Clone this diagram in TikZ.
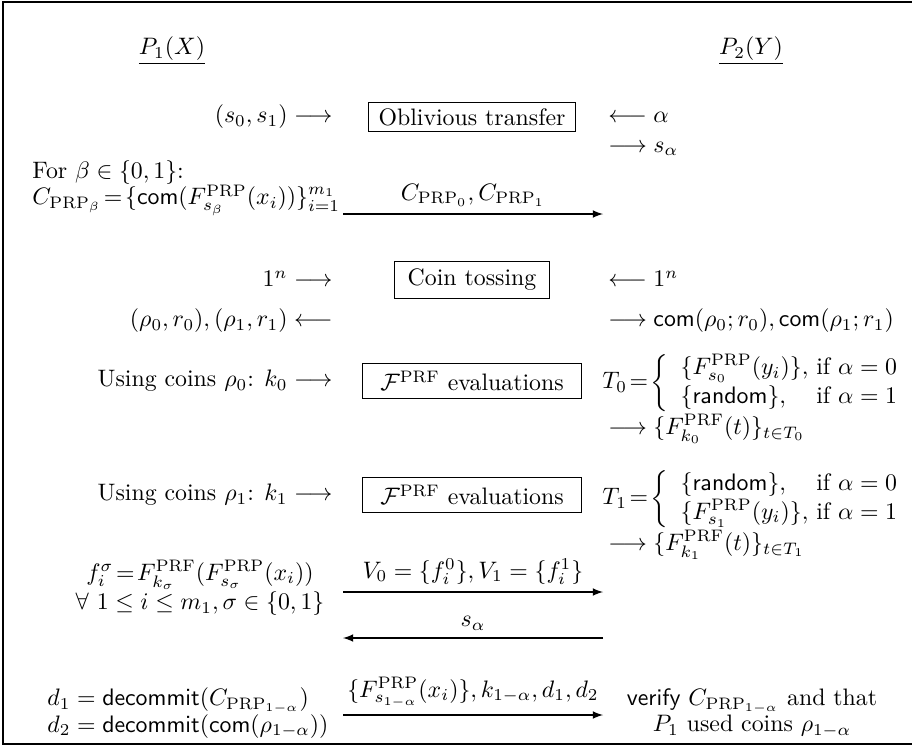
\documentclass[tikz,border=0pt]{standalone}
\usepackage{amsmath}

\begin{document}
\begin{tikzpicture}[
    x=0.42pt, y=-0.42pt,
    txt/.style={inner sep=0pt},
    stack/.style={inner sep=0pt, font=\fontsize{10}{11}\selectfont},
    func/.style={rectangle, draw, line width=0.6pt, inner sep=2pt},
    msg/.style={-latex, line width=0.5pt},
    lbl/.style={above, inner sep=3pt}
]

% Frame
\useasboundingbox (0,0) rectangle (912,747);
\draw[line width=0.8pt] (3,2) rectangle (930,744);

% Parties
\node[txt] (p1) at (172,51) {\underline{$P_1(X)$}};
\node[txt] (p2) at (751,51) {\underline{$P_2(Y)$}};

% Oblivious transfer
\node[func, minimum width=87pt, minimum height=12.2pt] (ot) at (472,117) {Oblivious transfer};
\node[txt, anchor=east] (otin1) at (333,117) {$(s_0,s_1) \longrightarrow$};
\node[txt, anchor=west] (otin2) at (608,117) {$\longleftarrow \alpha$};
\node[txt, anchor=west] (otout2) at (608,149) {$\longrightarrow s_\alpha$};

% Commitments to the permuted inputs
\node[stack, anchor=west, align=left] (cprp) at (32,188) {For $\beta \in \{0,1\}$:\\
    $C_{\mathrm{PRP}_\beta}\!=\!\{\mathsf{com}(F^{\mathrm{PRP}}_{s_\beta}(x_i))\}_{i=1}^{m_1}$};
\coordinate (m1s) at (343,214);
\coordinate (m1e) at (603,214);
\draw[msg] (m1s) -- (m1e) node[lbl, midway] (m1l) {$C_{\mathrm{PRP}_0}, C_{\mathrm{PRP}_1}$};

% Coin tossing
\node[func, minimum width=65pt, minimum height=15.5pt] (ct) at (472,280) {Coin tossing};
\node[txt, anchor=east] (ctin1) at (333,279) {$1^n \longrightarrow$};
\node[txt, anchor=west] (ctin2) at (608,279) {$\longleftarrow 1^n$};
\node[txt, anchor=east] (ctout1) at (333,321) {$(\rho_0,r_0),(\rho_1,r_1) \longleftarrow$};
\node[txt, anchor=west] (ctout2) at (608,321) {$\longrightarrow \mathsf{com}(\rho_0;r_0), \mathsf{com}(\rho_1;r_1)$};

% First PRF evaluations
\node[func, minimum width=92pt, minimum height=14.7pt] (ev0) at (472,381) {$\mathcal{F}^{\mathrm{PRF}}$ evaluations};
\node[txt, anchor=east] (ev0in1) at (333,381) {Using coins $\rho_0$: $k_0 \longrightarrow$};
\node[txt, anchor=west] (ev0in2) at (602,383) {$T_0\!=\!\left\{\begin{array}{l@{\ }l}
    \{F^{\mathrm{PRP}}_{s_0}(y_i)\}, & \text{if } \alpha = 0\\
    \{\mathsf{random}\}, & \text{if } \alpha = 1
  \end{array}\right.$};
\node[txt, anchor=west] (ev0out2) at (608,429) {$\longrightarrow \{F^{\mathrm{PRF}}_{k_0}(t)\}_{t\in T_0}$};

% Second PRF evaluations
\node[func, minimum width=92pt, minimum height=14.7pt] (ev1) at (472,495) {$\mathcal{F}^{\mathrm{PRF}}$ evaluations};
\node[txt, anchor=east] (ev1in1) at (333,495) {Using coins $\rho_1$: $k_1 \longrightarrow$};
\node[txt, anchor=west] (ev1in2) at (602,499) {$T_1\!=\!\left\{\begin{array}{l@{\ }l}
    \{\mathsf{random}\}, & \text{if } \alpha = 0\\
    \{F^{\mathrm{PRP}}_{s_1}(y_i)\}, & \text{if } \alpha = 1
  \end{array}\right.$};
\node[txt, anchor=west] (ev1out2) at (608,545) {$\longrightarrow \{F^{\mathrm{PRF}}_{k_1}(t)\}_{t\in T_1}$};

% Evaluated values
\node[stack, align=center] (fsig) at (200,588) {$f_i^\sigma\!=\!F^{\mathrm{PRF}}_{k_\sigma}(F^{\mathrm{PRP}}_{s_\sigma}(x_i))$\\
    $\forall\ 1 \le i \le m_1, \sigma \in \{0,1\}$};
\coordinate (m2s) at (343,592);
\coordinate (m2e) at (603,592);
\draw[msg] (m2s) -- (m2e) node[lbl, midway] (m2l) {$V_0 = \{f_i^0\}, V_1 = \{f_i^1\}$};
\coordinate (m3s) at (603,638);
\coordinate (m3e) at (343,638);
\draw[msg] (m3s) -- (m3e) node[lbl, midway] (m3l) {$s_\alpha$};

% Opening and verification
\node[stack, anchor=west, align=left] (dec) at (47,713) {$d_1 = \mathsf{decommit}(C_{\mathrm{PRP}_{1-\alpha}})$\\
    $d_2 = \mathsf{decommit}(\mathsf{com}(\rho_{1-\alpha}))$};
\coordinate (m4s) at (343,715);
\coordinate (m4e) at (603,715);
\draw[msg] (m4s) -- (m4e) node[lbl, midway] (m4l) {$\{F^{\mathrm{PRP}}_{s_{1-\alpha}}(x_i)\}, k_{1-\alpha}, d_1, d_2$};
\node[stack, align=center] (ver) at (752,713) {\textsf{verify} $C_{\mathrm{PRP}_{1-\alpha}}$ and that\\
    $P_1$ used coins $\rho_{1-\alpha}$};

\end{tikzpicture}
\end{document}
